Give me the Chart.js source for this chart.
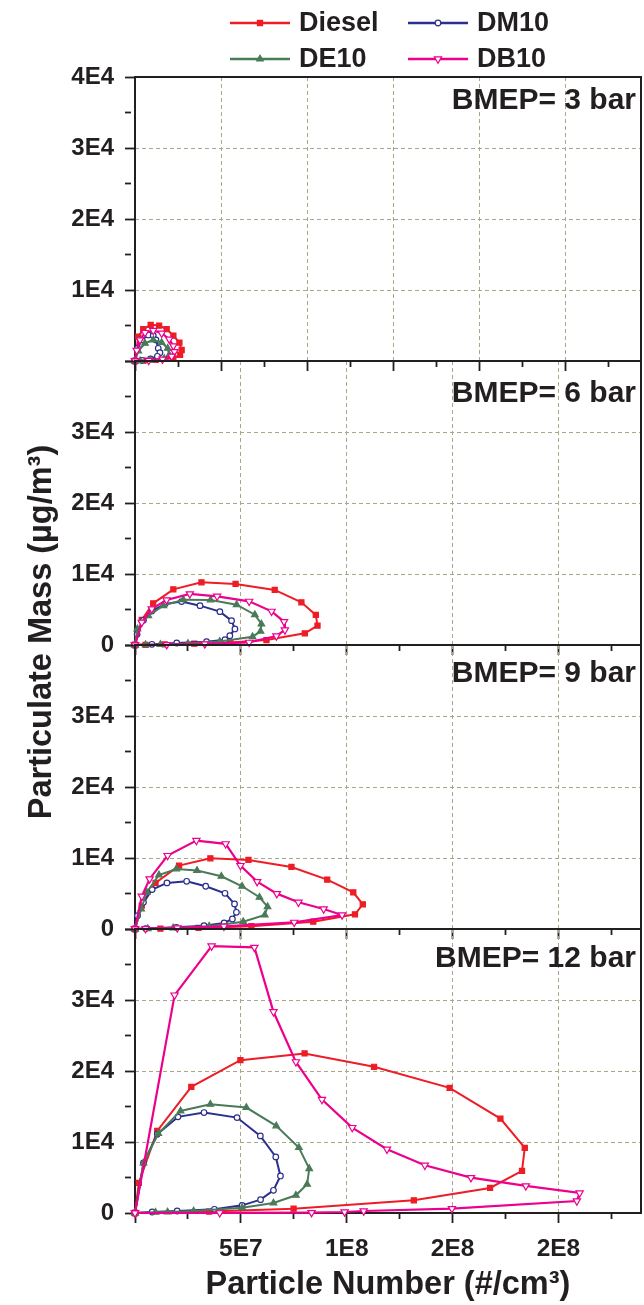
<!DOCTYPE html>
<html>
<head>
<meta charset="utf-8">
<script src="https://cdn.jsdelivr.net/npm/chart.js@4.4.1/dist/chart.umd.min.js"></script>
<style>
  html, body { margin: 0; padding: 0; background: #fff; }
  #wrap { position: relative; width: 644px; height: 1305px; }
  #wrap canvas { position: absolute; left: 0; top: 0; }
</style>
</head>
<body>
<div id="wrap">
  <canvas id="p0" width="644" height="1305"></canvas>
  <canvas id="p1" width="644" height="1305"></canvas>
  <canvas id="p2" width="644" height="1305"></canvas>
  <canvas id="p3" width="644" height="1305"></canvas>
</div>
<script>
// PM vs PN loops, 4 stacked panels (one Chart per panel, canvases overlaid)

const seriesNames = ['Diesel', 'DM10', 'DE10', 'DB10'];
const panelLabels = ['BMEP= 3 bar', 'BMEP= 6 bar', 'BMEP= 9 bar', 'BMEP= 12 bar'];
const xTickLabels = ['', '5E7', '1E8', '2E8', '2E8'];      // at 0, 5E7, 1E8, 1.5E8, 2E8
const yTickLabelsTop = ['', '1E4', '2E4', '3E4', '4E4'];   // panel 1, at 0..4E4
const yTickLabels = ['0', '1E4', '2E4', '3E4', ''];        // panels 2-4
const xTitle = 'Particle Number (#/cm³)';
const yTitle = 'Particulate Mass (µg/m³)';

// [particle number (1E6 #/cm3), particulate mass (ug/m3)]
const bmep3Diesel = [[0,0],[1.9,3430],[4.8,4480],[9.1,5090],[14,4990],[18.4,4480],[22.3,3580],[25.8,2590],[27.1,1550],[26.2,850],[22.3,380],[12,150],[5,50],[0,0]];
const bmep3DM10   = [[0,0],[1.5,1800],[3.9,2970],[7.7,3670],[10.6,3600],[12.2,2970],[13.5,1790],[14.5,1170],[13,660],[9,300],[4,100],[0,0]];
const bmep3DE10   = [[0,0],[1.9,1410],[5.8,2500],[10.6,2970],[15.5,2590],[19,1790],[19.9,850],[17,350],[9,100],[3,30],[0,0]];
const bmep3DB10   = [[0,0],[1,1500],[2.9,2970],[5.8,4000],[10.6,4290],[15.5,3910],[19.9,3070],[22.3,2120],[22.9,1310],[21.3,660],[16,250],[8,80],[0,0]];

const bmep6Diesel = [[0,0],[3.2,3530],[8.6,5870],[18.1,7840],[31.4,8830],[47.5,8600],[66,7760],[78.6,6010],[85.4,4230],[86.2,2720],[80.2,1640],[62.1,700],[45,350],[28,180],[14,80],[5,30],[0,0]];
const bmep6DM10   = [[0,0],[1,1500],[4,3500],[8,4800],[14.2,5780],[22,6110],[30.7,5540],[40.1,4700],[45.6,3430],[47.2,2260],[44.8,1310],[42.5,750],[33.8,470],[19.7,280],[8,100],[0,0]];
const bmep6DE10   = [[0,0],[1.1,2260],[6.3,4130],[13.4,5540],[22.8,6390],[35.7,6350],[48,5680],[56.6,4270],[59.7,2960],[59.3,1920],[55.5,1170],[40,500],[25,200],[12,80],[5,30],[0,0]];
const bmep6DB10   = [[0,0],[3.2,3190],[7.9,5080],[14.9,6350],[25.9,7190],[38.8,6860],[53.9,6150],[64.5,4740],[70.4,3290],[70.8,2110],[66.8,1270],[53.9,370],[33,150],[15,50],[0,0]];

const bmep9Diesel = [[0,0],[3.2,3290],[9.7,6490],[20.8,8930],[35.6,9960],[53.6,9730],[73.9,8740],[90.8,6960],[103.1,5170],[107.6,3480],[103.9,2070],[84.2,1030],[55,400],[30,150],[12,50],[0,0]];
const bmep9DM10   = [[0,0],[1.2,1880],[4,3760],[8.1,5550],[15.1,6490],[24.4,6720],[33.4,6020],[42.5,5030],[47,3530],[47.9,2350],[46,1410],[42.1,850],[32.6,470],[19.5,235],[5,60],[0,0]];
const bmep9DE10   = [[0,0],[2.9,2820],[5.6,5170],[11.3,7610],[19.5,8460],[29.3,8230],[40.8,7430],[50.6,6020],[58.8,4470],[62.6,3150],[61.3,1970],[51.1,1030],[35,400],[18,150],[6,50],[0,0]];
const bmep9DB10   = [[0,0],[3.2,4610],[6.9,7050],[15.4,10340],[29,12460],[42.8,11990],[49.8,8930],[57.7,6670],[67,4980],[77.2,3760],[89.1,2820],[97.8,1970],[75.2,940],[42,380],[20,150],[5,50],[0,0]];

const bmep12Diesel = [[0,0],[1.8,4230],[10.5,11560],[26.6,17770],[49.8,21530],[80.1,22470],[112.9,20590],[148.6,17630],[172.6,13300],[184.1,9170],[182.8,5920],[167.7,3530],[131.7,1790],[74.9,610],[35,200],[0,0]];
const bmep12DM10   = [[0,0],[4,7050],[10.5,11090],[20.3,13540],[32.6,14150],[48.2,13440],[59.2,10860],[66.5,7900],[68.7,5220],[65.4,3200],[59.3,1880],[50.6,1080],[37.5,520],[19.9,280],[8.1,140],[0,0]];
const bmep12DE10   = [[0,0],[4,7050],[11,11190],[21.5,14380],[35.6,15320],[52.6,14850],[66.7,12270],[77.4,9210],[82.3,6250],[81.3,4040],[76,2490],[65.4,1410],[50.6,750],[27.7,280],[15.4,140],[9.7,90],[0,0]];
const bmep12DB10   = [[0,0],[18.7,30690],[36.2,37600],[56.4,37410],[65.4,28340],[76,21290],[88.3,15980],[102.6,12030],[119,8980],[136.9,6720],[158.7,4980],[184.6,3810],[210,2820],[208.7,1690],[149.7,610],[108,280],[99,140],[83.4,50],[40,20],[0,0]];

const panelSeries = [
  [bmep3Diesel, bmep3DM10, bmep3DE10, bmep3DB10],
  [bmep6Diesel, bmep6DM10, bmep6DE10, bmep6DB10],
  [bmep9Diesel, bmep9DM10, bmep9DE10, bmep9DB10],
  [bmep12Diesel, bmep12DM10, bmep12DE10, bmep12DB10],
];

// styling
const INK = '#231f20';
const GRID = '#aaa687';
const FONT = "'Liberation Sans', Arial, Helvetica, sans-serif";
const colors = ['#ee1c25', '#2b2f8e', '#4a7b58', '#ec008c'];
const markers = ['rect', 'circle', 'triangle', 'triangle'];
const markerRot = [0, 0, 0, 180];
const markerR = [3.6, 2.8, 3.8, 4.2];
const markerFilled = [true, false, true, false];
const lineW = [2, 2, 2, 2.2];
const drawOrder = [3, 2, 1, 0];

const panelTop = [77, 361, 645, 929];
const panelH = 284;
// x axis in units of 1E6 #/cm3 (keeps Chart.js tick stepping exact)
const xMax = [294, 239, 239, 239];
const X_MINOR = 25, X_MAJOR = 50;
const labelBaseline = [32, 41, 37, 38];
const PAGE_H = 1305;

Chart.defaults.font.family = FONT;
Chart.defaults.font.weight = 'bold';
Chart.defaults.color = INK;

function markerOpts(s) {
  return { pointStyle: markers[s], rotation: markerRot[s], radius: markerR[s], borderWidth: 1.2 };
}

const framePlugin = {
  id: 'frame',
  beforeDatasetsDraw(chart) {
    const { ctx, chartArea: a } = chart;
    ctx.save();
    ctx.strokeStyle = INK;
    ctx.lineWidth = 2;
    ctx.strokeRect(a.left, a.top, a.right - a.left, a.bottom - a.top);
    ctx.restore();
  },
};

const panelLabelPlugin = {
  id: 'panelLabel',
  afterDraw(chart, args, opts) {
    const { ctx, chartArea: a } = chart;
    ctx.save();
    ctx.font = `bold 30px ${FONT}`;
    ctx.fillStyle = INK;
    ctx.textAlign = 'right';
    ctx.textBaseline = 'alphabetic';
    ctx.fillText(opts.text, a.right - 5, a.top + opts.baseline);
    ctx.restore();
  },
};

// two-row legend above the top panel
const legendPlugin = {
  id: 'twoRowLegend',
  afterDraw(chart) {
    const { ctx } = chart;
    const rowY = [23, 59];
    const lineX = [[230, 290], [408, 468]];
    const textX = [299, 477];
    ctx.save();
    ctx.font = `bold 27px ${FONT}`;
    ctx.textAlign = 'left';
    ctx.textBaseline = 'middle';
    seriesNames.forEach((name, s) => {
      const row = Math.floor(s / 2), col = s % 2;
      const y = rowY[row];
      ctx.strokeStyle = colors[s];
      ctx.lineWidth = 2.5;
      ctx.beginPath();
      ctx.moveTo(lineX[col][0], y);
      ctx.lineTo(lineX[col][1], y);
      ctx.stroke();
      ctx.fillStyle = markerFilled[s] ? colors[s] : '#fff';
      ctx.lineWidth = 1.2;
      Chart.helpers.drawPoint(ctx, markerOpts(s), (lineX[col][0] + lineX[col][1]) / 2, y);
      ctx.fillStyle = INK;
      ctx.fillText(name, textX[col], y + 1);
    });
    ctx.restore();
  },
};

const yTitlePlugin = {
  id: 'sharedYTitle',
  afterDraw(chart) {
    const { ctx } = chart;
    ctx.save();
    ctx.translate(51, 632);
    ctx.rotate(-Math.PI / 2);
    ctx.font = `bold 32.5px ${FONT}`;
    ctx.fillStyle = INK;
    ctx.textAlign = 'center';
    ctx.textBaseline = 'alphabetic';
    ctx.fillText(yTitle, 0, 0);
    ctx.restore();
  },
};

function isMultiple(v, step) {
  const k = Math.round(v / step);
  return Math.abs(v - k * step) < 1e-6 * step;
}

function makePanel(i) {
  const top = panelTop[i];
  const bottom = top + panelH;
  const last = i === panelTop.length - 1;
  const xh = last ? PAGE_H - bottom : 12;
  const yLabels = i === 0 ? yTickLabelsTop : yTickLabels;

  const datasets = panelSeries[i].map((pts, s) => ({
    label: seriesNames[s],
    data: pts.map(p => ({ x: p[0], y: p[1] })),
    showLine: true,
    tension: 0,
    borderColor: colors[s],
    borderWidth: lineW[s],
    pointStyle: markers[s],
    pointRotation: markerRot[s],
    pointRadius: markerR[s],
    pointBackgroundColor: markerFilled[s] ? colors[s] : '#fff',
    pointBorderColor: colors[s],
    pointBorderWidth: 1.2,
    order: drawOrder[s],
    clip: false,
  }));

  const plugins = [framePlugin, panelLabelPlugin];
  if (i === 0) plugins.push(legendPlugin);
  if (last) plugins.push(yTitlePlugin);

  return new Chart(document.getElementById('p' + i), {
    type: 'scatter',
    data: { datasets },
    options: {
      responsive: false,
      animation: false,
      events: [],
      layout: { autoPadding: false, padding: { top, left: 0, right: 3, bottom: PAGE_H - bottom - xh } },
      plugins: {
        legend: { display: false },
        tooltip: { enabled: false },
        panelLabel: { text: panelLabels[i], baseline: labelBaseline[i] },
      },
      scales: {
        x: {
          type: 'linear',
          min: 0,
          max: xMax[i],
          border: { display: false, dash: [4, 3] },
          grid: {
            color: c => isMultiple(c.tick.value, X_MAJOR) ? GRID : 'rgba(0,0,0,0)',
            lineWidth: 1,
            tickLength: 10,
            tickColor: INK,
            tickWidth: 1.8,
            tickBorderDash: c => isMultiple(c.tick.value, X_MAJOR) ? [] : [6, 40],
          },
          ticks: {
            stepSize: X_MINOR,
            includeBounds: false,
            autoSkip: false,
            maxRotation: 0,
            padding: 12,
            color: INK,
            font: { size: 24.5, weight: 'bold' },
            callback(v) {
              if (!last || !isMultiple(v, X_MAJOR)) return '';
              return xTickLabels[Math.round(v / X_MAJOR)] ?? '';
            },
          },
          title: {
            display: last,
            text: xTitle,
            color: INK,
            font: { size: 32.5, weight: 'bold' },
            padding: { top: 0, bottom: 0 },
          },
          afterFit(scale) { scale.height = xh; },
        },
        y: {
          type: 'linear',
          min: 0,
          max: 4e4,
          border: { display: false, dash: [4, 3] },
          grid: {
            color: c => isMultiple(c.tick.value, 1e4) ? GRID : 'rgba(0,0,0,0)',
            lineWidth: 1,
            tickLength: 10,
            tickColor: INK,
            tickWidth: 1.8,
            tickBorderDash: c => isMultiple(c.tick.value, 1e4) ? [] : [6, 40],
          },
          ticks: {
            stepSize: 5000,
            autoSkip: false,
            padding: 11,
            color: INK,
            font: { size: 24, weight: 'bold' },
            callback(v) {
              if (!isMultiple(v, 1e4)) return '';
              return yLabels[Math.round(v / 1e4)] ?? '';
            },
          },
          afterFit(scale) { scale.width = 135; },
        },
      },
    },
    plugins,
  });
}

panelTop.forEach((_, i) => makePanel(i));
</script>
</body>
</html>
